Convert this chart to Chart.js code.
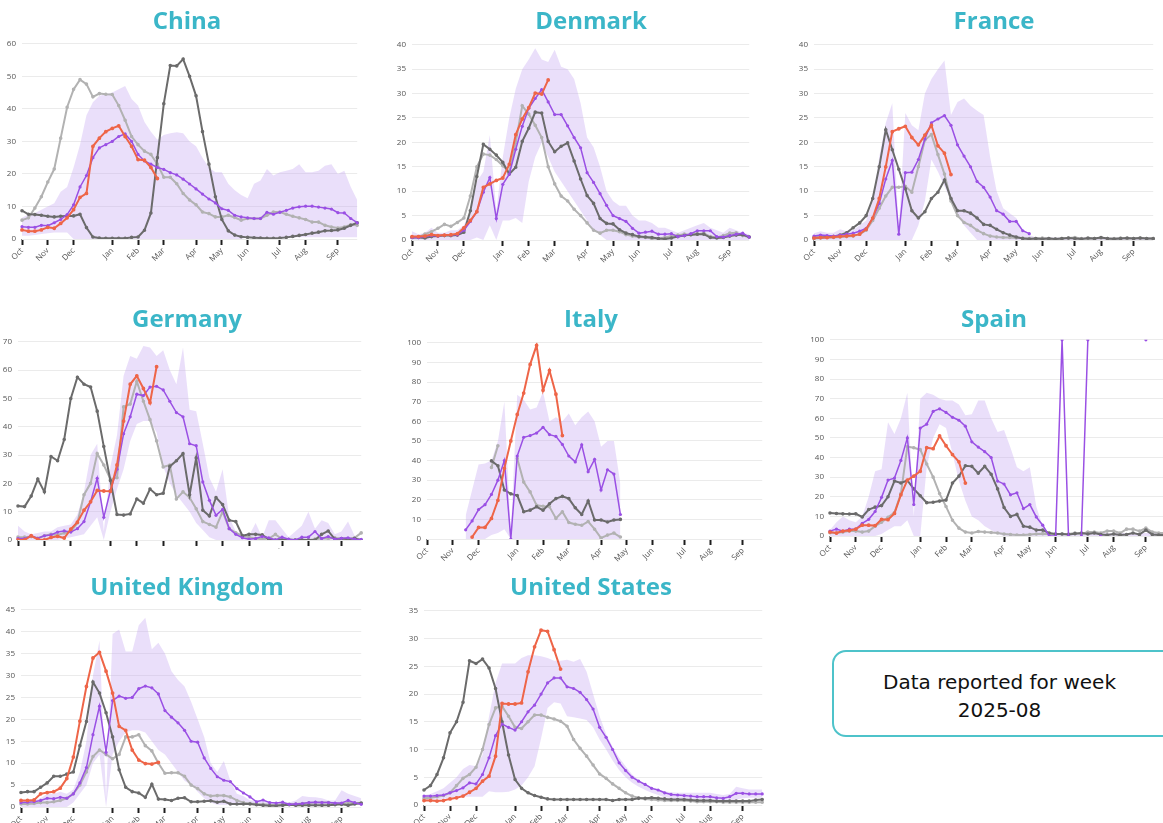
<!DOCTYPE html>
<html>
<head>
<meta charset="utf-8">
<script src="https://cdn.jsdelivr.net/npm/chart.js@4.4.1/dist/chart.umd.min.js"></script>
<style>
  html, body { margin:0; padding:0; background:#fff; }
  body { width:1163px; height:823px; overflow:hidden; position:relative; }
  .ttl { position:absolute; width:400px; text-align:center; font-family:'Open Sans', sans-serif; font-weight:700; font-size:24px; line-height:30px; color:#3bb6c8; }
  .wrap { position:absolute; overflow:hidden; }
  .wrap canvas { position:absolute; left:0; top:0; }
  #note { position:absolute; left:832px; top:650px; width:345px; height:87px; box-sizing:border-box; border:2.5px solid #4ec3ca; border-radius:14px; font-family:'DejaVu Sans', sans-serif; font-size:20px; line-height:28px; color:#111; text-align:center; padding-top:16px; padding-right:10px; }
</style>
</head>
<body>
<div id="note">Data reported for week<br>2025-08</div>
<script>
const _ = null;
// x-axis tick labels: one per week, Oct .. Sep (53 weeks)
const weekLabels = ['Oct','','','','Nov','','','','Dec','','','','','','Jan','','','','Feb','','','','Mar','','','','','Apr','','','','May','','','','Jun','','','','','Jul','','','','Aug','','','','','Sep','','',''];

// ---- China ----
const chinaCurrent = [2.8,2.4,2.4,2.8,3.6,3.3,4.8,6.5,9,12.8,14,28.5,31,33,34,34.8,31.5,28.5,24.4,24.2,22,18.6,_,_,_,_,_,_,_,_,_,_,_,_,_,_,_,_,_,_,_,_,_,_,_,_,_,_,_,_,_,_,_];
const chinaMedian = [3.8,3.6,3.6,4.2,4.1,5,6,7.5,10.5,16,19.5,25,28,29,30,31.5,32.3,30,26,24,23,22,21.4,20.4,19.7,18.4,16.9,15.4,13.8,12.3,11.1,9.3,8.8,7.3,6.8,6.5,6.3,6.3,8.2,7.6,8.2,8.8,9.5,9.9,10.1,10.1,9.8,9.5,9.2,8.1,8,6.3,5];
const chinaPrev1 = [8.7,7.6,7.5,7.3,7,6.8,7,7.1,7.1,7.6,3.5,0.6,0.3,0.2,0.2,0.2,0.2,0.5,0.6,2.7,8,25,41.6,53.3,53.2,55.3,50,44,33,23,13,6,2.5,1.2,0.7,0.5,0.4,0.3,0.2,0.2,0.3,0.5,0.8,1.1,1.4,1.8,2.1,2.5,2.6,2.8,3.3,4.2,5];
const chinaPrev2 = [5.8,6.5,9.5,13,17.5,21.5,31,40.5,46,49,47.6,43.7,44.7,44.5,44.4,41,36.5,31.5,29,27,26,23,19,19,17,14,12,10.5,8.3,7.8,6.8,6.8,7.3,6.6,5.8,6.3,6.3,6.3,7.3,8.3,8.3,7.6,7,6.5,6,5.2,5.2,4.2,3.7,3.4,3.7,4.4,4.2];
const chinaUpper = [6.5,7.5,8,9,10,11,14.5,16,22,29,38,42,44,44.5,45,46,47,43,41,36,33,30.5,32,32.5,32.8,32.5,30,28.5,25,22,20.5,20.5,17,15,13.5,12.5,17,18,21.5,19.5,20.5,21,21.5,23,20.5,20.5,21,22.5,23,20,21,16,12];
const chinaLower = [1,1,1.2,1.5,1.8,2,2,2,0,0,0,0,0,0,0,0,0,0,0,0,0,0,0,0,0,0,0,0,0,0,0,0,0,0,0,0.5,0.5,0.5,0.5,0.5,0.5,0.5,0.5,0.5,0.5,0.5,0.5,0.5,0.5,0.5,0.5,0.5,0.5];

// ---- Denmark ----
const denmarkCurrent = [0.7,0.7,0.8,1.1,0.9,1.0,1.1,1.3,2.5,4,5.8,10.8,11.5,12.2,12.7,15.5,21.6,24.8,27.1,30.1,29.9,32.8,_,_,_,_,_,_,_,_,_,_,_,_,_,_,_,_,_,_,_,_,_,_,_,_,_,_,_,_,_,_,_];
const denmarkMedian = [0.5,0.5,0.7,0.9,0.8,1.0,1.0,1.1,2,3.8,5.8,9.8,12.8,4.4,11.4,13.5,18.6,23.3,27,29,30.8,28.3,25.7,25.7,23.4,21,18.9,13.8,11.8,9.5,7.1,5,4.4,3.8,2.4,1.4,1.6,1.8,1.2,1.2,1.3,0.7,0.9,1.3,1.9,1.9,1.9,0.7,0.6,0.9,1.2,1.4,0.6];
const denmarkPrev1 = [0.5,0.5,0.4,0.7,0.8,0.9,0.9,1.0,1.6,6,13,19.6,18.6,17.4,15.9,13.5,14.9,20.2,22.9,26.2,26,20.2,18.1,19.2,19.9,16.2,12.5,9.1,7.5,4.4,3.4,3.3,2.1,1.4,1.1,0.7,0.6,0.5,0.3,0.2,0.4,0.7,0.9,1.1,1.2,1.2,0.5,0.4,0.5,0.8,1,1.1,0.6];
const denmarkPrev2 = [0.5,0.6,1.2,1.7,2.4,3.2,2.8,3.6,4.5,9,15,17.6,17.4,16.5,15.2,14,20,27.5,25.8,23.5,21,15,11.5,9,8,6.3,5,3.5,2,1.4,2,2,1.7,1.1,0.8,0.6,0.5,0.3,0.3,0.5,0.8,1.0,1.2,1.1,1.2,1.4,0.7,0.5,0.9,1.4,1.5,0.9,0.6];
const denmarkUpper = [1.8,1.2,1.5,2.5,1.5,1.5,2,2,3,6,12,14,21.5,6,17,25,31,35,37,39.3,37,36.5,39,35.5,35,33,28,21,19,15,10,8,7,7,5,4,4,3.5,2.5,2.5,2,1.5,2,2.5,3,3.5,2.5,2,1.5,2.5,2,1.5,1.2];
const denmarkLower = [0,0,0,0,0,0,0,0,0,0,0.5,0,3,0,4,4,4.5,3.5,12,17,20,17,14,12,10,8,6,4,2,1,0,0,0,0,0,0,0,0,0,0,0,0,0,0,0,0,0,0,0,0,0,0,0];

// ---- France ----
const franceCurrent = [0.4,0.5,0.5,0.6,0.7,0.8,0.9,1.2,2.2,4.5,8.5,15,22.2,22.8,23.3,21,19.5,21.5,23.5,19.3,17.8,13.4,_,_,_,_,_,_,_,_,_,_,_,_,_,_,_,_,_,_,_,_,_,_,_,_,_,_,_,_,_,_,_];
const franceMedian = [0.8,1.0,0.9,0.8,1.0,1.2,1.4,1.8,2.4,4.5,7.5,12.5,16.3,1.2,13.8,13.9,16.5,20.7,24,24.8,25.5,23.5,19.5,17.2,15,12,10.8,8.8,6,5.3,3.8,3.8,1.9,1.3,_,_,_,_,_,_,_,_,_,_,_,_,_,_,_,_,_,_,_];
const francePrev1 = [0.5,0.5,0.6,0.7,1,1.5,2.5,3.5,5,8.5,15,22.6,18.5,14.5,10.5,6,4.5,5.8,8.5,9.8,12.3,8.5,6,6,5.5,4.5,3.2,3,2.2,1.5,1,0.6,0.3,0.2,0.3,0.2,0.3,0.2,0.3,0.4,0.3,0.2,0.4,0.3,0.5,0.3,0.2,0.3,0.4,0.3,0.4,0.3,0.3];
const francePrev2 = [0.3,0.4,0.5,0.5,0.6,0.7,0.8,1.2,2,4,6.5,9,10.8,10.8,11,9.8,15,20.5,21.6,17.5,13.5,8,5,3.6,3,2,1.3,0.8,0.6,0.5,0.5,0.4,0.4,0.3,0.3,0.4,0.3,0.2,0.3,0.4,0.5,0.3,0.2,0.3,0.4,0.3,0.3,0.4,0.3,0.3,0.4,0.3,0.3];
const franceUpper = [1.4,1.8,1.5,1.5,2.2,1.8,2,3,4,8,17,24,28,2,26,23.5,22.5,30,33,35,36.8,25.6,28.3,29,27.5,26.5,25.6,17,10,6.5,5.5,4.5,2,1,0.5,0.5,0.5,0.5,0.5,0.5,0.5,0.5,0.5,0.5,0.5,0.5,0.5,0.5,0.5,0.5,0.5,0.5,0.5];
const franceLower = [0,0,0,0,0,0,0,0,0,0,0,0,0,0,0,0,3,8,16.5,14,11,8,5,3,1.5,0,0,0,0,0,0,0,0,0,0,0,0,0,0,0,0,0,0,0,0,0,0,0,0,0,0,0,0];

// ---- Germany ----
const germanyCurrent = [0,0,1.5,0.2,0,0.9,1.3,0.7,3.8,6.3,10.5,13.5,17.5,17.3,17.2,26.5,42,55,58,53.5,48.5,61.2,_,_,_,_,_,_,_,_,_,_,_,_,_,_,_,_,_,_,_,_,_,_,_,_,_,_,_,_,_,_,_];
const germanyMedian = [0.5,0.5,1.5,0.6,1.5,1.8,2.8,3.2,2.8,4,6.5,13.5,21.8,8,17.5,25,37.5,43.5,51.5,51,54,54.3,53,49,45,43.5,34,33.3,20.5,14,8.7,10.8,4,2,0.8,0.3,0.5,1.2,0.8,0,1,0.3,0,1,1,3,0.5,1.2,0.3,0.6,0.8,0.3,0.2];
const germanyPrev1 = [12,11.8,15.5,21.5,17,29.5,28,35.5,50,57.5,55,54,45.5,33,21,9,8.8,9.2,14.5,13,18,16,16.5,26,28,30.5,16,29,10.5,8.5,15,12.5,7,6.5,1.5,2,2,1.8,0.3,0,0,0.2,0,0.1,0,0,2,3.2,0.3,0.5,0.3,0.5,0];
const germanyPrev2 = [1,1,1.2,0.6,1.5,2,1.8,2.5,3,6,16,20,30.5,26.5,21.5,22,47,48,56,49,42.5,35,25.8,26.5,14.5,17,15,11,6.5,5.5,4.5,10,4,2.5,1.5,1,0.5,0.3,0.5,2,0.3,0,0,0,0,0.3,0.5,0.5,0.8,0.3,0.3,0.8,2.5];
const germanyUpper = [5,3,2,2.5,3,3,4.5,5,5.5,9,17,30,34,3,26,37,58,65,64,68.5,68,65,67,60,55,68,46,45.5,34,22,17,25,8,3,2,1.5,6,1,7,7,4,1,3,5,10,4,7,6,2,3,6.5,1.5,0.5];
const germanyLower = [0,0,0,0,0,0,0,0.5,1,1.5,2,5,8,0,10,18,25,35,41,42,42,38,26,20,16,13,10,6,3.5,1,0,0,0,0,0,0,0,0,0,0,0,0,0,0,0,0,0,0,0,0,0,0,0];

// ---- Italy ----
const italyCurrent = [_,_,_,_,_,_,_,1,5.9,5.9,10.5,19.7,36,50,63.5,74.4,89,98.7,75.8,85.9,73.8,52.7,_,_,_,_,_,_,_,_,_,_,_,_,_,_,_,_,_,_,_,_,_,_,_,_,_,_,_,_,_,_,_];
const italyMedian = [_,_,_,_,_,_,4.7,9.2,15,17.5,22.7,30,40,0,42.3,51.8,52.7,54,56.9,53.2,52.3,48.2,42.3,39.3,48,34.3,40.6,25,35.3,33.1,12.5,_,_,_,_,_,_,_,_,_,_,_,_,_,_,_,_,_,_,_,_,_,_];
const italyPrev1 = [_,_,_,_,_,_,_,_,_,_,39.8,37.3,25,23,22.2,13.9,14.7,16.4,14.7,18,20.6,21.7,20.6,15.9,12.5,19.4,9.7,9.7,8.7,9.7,10,_,_,_,_,_,_,_,_,_,_,_,_,_,_,_,_,_,_,_,_,_,_];
const italyPrev2 = [_,_,_,_,_,_,_,_,_,_,36.5,47.5,_,_,41,29,24,17.2,16.7,16.4,10.5,13.9,8.4,7.5,7,8.9,5,0.5,2,3,1,_,_,_,_,_,_,_,_,_,_,_,_,_,_,_,_,_,_,_,_,_,_];
const italyUpper = [_,_,_,_,_,_,12,25,38,38.5,40,50,70,3,73.5,71,66,67,75,60,62,60,64,58,62,65,60,47,50,50,28,_,_,_,_,_,_,_,_,_,_,_,_,_,_,_,_,_,_,_,_,_,_];
const italyLower = [_,_,_,_,_,_,0,0,0,0,2,3,5,0,0,0,0,0,0,0,0,0,0,0,0,0,0,0,0,0,0,_,_,_,_,_,_,_,_,_,_,_,_,_,_,_,_,_,_,_,_,_,_];

// ---- Spain ----
const spainCurrent = [2,1.5,2.5,2.8,3.5,5.5,5.5,5.3,8.5,8.3,11.5,21,28.5,30.5,33,45,44.5,51,46,41.5,37.8,27,_,_,_,_,_,_,_,_,_,_,_,_,_,_,_,_,_,_,_,_,_,_,_,_,_,_,_,_,_,_,_];
const spainMedian = [2.5,3.5,2.5,3.5,3.5,6.5,8.5,12.5,19.7,28.5,29.5,38.5,50,16,55,57,63.5,64.8,63,60.5,59,56,48,45.3,43,40,28,26.5,21,22,14,16,9.7,5.5,0,0,100,0,_,0,100,_,0,_,_,_,_,_,_,100,_,_,_];
const spainPrev1 = [11.7,11.5,11.3,11.2,11.3,9.7,13.5,14.7,15.5,20,28,27,28.3,24,20.5,17,17.2,17.8,18.3,27,30.5,35.8,35.5,32,35.5,31.5,24,14.5,10,11,5,4.5,3,3,1.5,1,1,0.8,1.2,1.5,1,1.5,0.8,0.5,1,0.5,0.8,1.5,0.8,3,0.8,0.5,0.5];
const spainPrev2 = [1.7,1.5,2,2.5,2.5,2,2.5,5,7,9.5,12,21.6,45.5,45,44,36.7,30,21.6,15,8,4,2,1.5,2.3,2,1.8,1.5,1,0.8,0.5,0.5,0.8,1,1.2,1,1,1,1,1.5,1,2,2,1.5,2.5,2.5,1.5,3.5,3.5,2.5,4,2,1.5,1.5];
const spainUpper = [3,7,10,8,7,10,20,33,34,58,52,60,73,10,70,73,72,70,69,69,67,61.5,62,69,69,60,53,54,45,35,33,35,15,5,1.5,1.5,1.5,1.5,1.5,1.5,1.5,1.5,1.5,1.5,1.5,1.5,1.5,1.5,1.5,1.5,1.5,1.5,1.5];
const spainLower = [0,0,0,0,0,0,0,0,1,3,5,5,8,0,0,35,50,57,55,42,28,18,10,8,5,3,1,0,0,0,0,0,0,0,0,0,0,0,0,0,0,0,0,0,0,0,0,0,0,0,0,0,0];

// ---- United Kingdom ----
const ukCurrent = [1.5,1.5,1.6,3,3.3,3.5,4.3,6.5,11.4,19.6,27.5,34,35.3,31,26,18.4,17.5,13,10.7,9.9,9.8,10.2,_,_,_,_,_,_,_,_,_,_,_,_,_,_,_,_,_,_,_,_,_,_,_,_,_,_,_,_,_,_,_];
const ukMedian = [1,1.1,1.2,1.5,2,1.9,2.2,2,3,5.5,9,16.5,23,12.5,24.3,25.3,24.8,25,27,27.6,27.2,25.8,22,20.5,19.2,17.5,15,14.8,11.2,8.8,6.9,6.1,5.8,4.2,3.2,2.3,1.2,1.6,1,0.9,1.1,0.6,0.7,0.8,1,1.1,1,1,0.9,0.9,1.5,1,0.6];
const ukPrev1 = [3.3,3.5,3.5,4.5,5.5,7,7,7.5,8,14,19.5,28.5,26,21.5,16,8.5,4.5,3.5,3.2,2.2,5.2,1.8,1.7,1.5,2,2.1,1.2,1.2,1.3,1.4,1.1,1.3,0.7,0.7,0.7,0.7,0.5,0.4,0.3,0.3,0.4,0.5,0.4,0.4,0.4,0.4,0.4,0.4,0.5,0.6,0.4,0.7,0.9];
const ukPrev2 = [0.7,0.7,0.8,1,1,1.2,1.5,2,3,5,8,11.5,13,12,11,12,16,16,16.5,14,12.8,10,7.7,7.8,7.8,7,5,4.2,3,2.5,2.6,2.6,2.3,1.5,1,0.8,0.7,0.6,0.5,0.4,0.6,0.6,0.7,0.8,0.9,1,1,1,0.8,0.7,0.9,0.9,0.8];
const ukUpper = [1.5,1.5,1.5,2,3,3,3.5,3,4,8,15,30,38,2,39.5,40.5,35.5,35.5,41.5,43.2,36,37.5,35,31,29,27.5,24,20,16,10,8,10.5,6,3,2.5,1.5,1.5,1.5,1.2,1,1.3,1,1.5,2.5,2.3,2.2,2,1.5,1.5,3.8,3,2.5,2];
const ukLower = [0,0,0,0,0,0,0,0,1,3,5,10,12,0,12,15,17,17.5,17.5,17,15,13,12,10,8,6,5,3.5,2,1,0.5,0.5,0.5,0.5,0.5,0.5,0.5,0.5,0.5,0.5,0.5,0.5,0.5,0.5,0.5,0.5,0.5,0.5,0.5,0.5,0.5,0.5,0.5];

// ---- United States ----
const usCurrent = [0.8,0.8,0.7,0.8,1.1,1.3,1.6,2.3,3,4.3,5.2,8.8,18.3,18.2,18.2,18.4,24,28.5,31.5,31.3,28,24.5,_,_,_,_,_,_,_,_,_,_,_,_,_,_,_,_,_,_,_,_,_,_,_,_,_,_,_,_,_,_,_];
const usMedian = [1.6,1.6,1.7,1.8,2.2,2.6,3.1,4,3.8,5.5,8.5,12.5,14.6,14,13.5,15,16.8,18,20,22,22.9,22.9,21.3,21,20.3,19,17.3,14,12.2,10,7.6,6.2,5,4.3,3.7,3,2.7,2.2,1.9,1.8,1.7,1.6,1.5,1.5,1.5,1.3,1.2,1.5,2.1,2.1,2,2,2];
const usPrev1 = [2.7,3.5,5.5,8.5,13,15,18.5,26,25.5,26.3,24.7,21,15,9,4.6,3,2.2,1.7,1.4,1.1,1,1,1,1,1,1,1,1,1,0.8,1,1,1,1.2,1.2,1.3,1.2,1.1,1,1,1,0.9,0.8,0.8,0.8,0.7,0.7,0.7,0.7,0.7,0.7,0.9,1];
const usPrev2 = [1.2,1.3,1.5,1.7,2.2,3.5,4.8,5.5,6.8,10,14.5,17.5,17.8,16,14,13.8,15,16.2,16.2,15.8,15.5,15.1,14.2,11.8,10.2,8.8,7.2,5.6,4.8,3.8,3,2.2,1.6,1.3,1.1,1,0.9,0.8,0.8,0.8,0.8,0.7,0.6,0.6,0.6,0.6,0.5,0.5,0.5,0.5,0.5,0.5,0.5];
const usUpper = [1.8,2,2.5,3,4,5,6.5,7.2,7,9,16,22,25.5,25.5,25.5,26.5,27,27,26.8,26.5,26,26,26.2,25.8,26.3,24,20,16,12.8,10.5,8.5,7,5.5,4.5,3.8,3.3,2.8,2.5,2.3,2.2,2.2,2.2,2.2,2.2,2.2,2,1.8,2,3.3,3,2.8,2.8,2.8];
const usLower = [0.8,0.9,1,1.1,1.3,1.4,1.5,1.5,1.5,1.5,2.5,2.3,2.3,2.4,2.8,3.5,5,7,12,17.5,18.5,18.3,16,15.8,15.6,15.3,14,11.8,10,8,6.3,5,4,3.3,2.7,2.2,1.8,1.4,1.2,1,1,1,1,1,1,0.9,0.9,0.8,1,1.2,1.3,1.3,1.3];

// panel layout (chart-area pixel box in page coords)
const panels = [
  {title:'China', cx:187, cy:20, L:22, R:359, T:41, B:239, max:60, step:10, s:[chinaCurrent,chinaMedian,chinaPrev1,chinaPrev2,chinaUpper,chinaLower]},
  {title:'Denmark', cx:591, cy:20, L:412, R:751, T:42, B:240, max:40, step:5, s:[denmarkCurrent,denmarkMedian,denmarkPrev1,denmarkPrev2,denmarkUpper,denmarkLower]},
  {title:'France', cx:994, cy:20, L:814, R:1155, T:42, B:240, max:40, step:5, s:[franceCurrent,franceMedian,francePrev1,francePrev2,franceUpper,franceLower]},
  {title:'Germany', cx:187, cy:318, L:18, R:363, T:339, B:540, max:70, step:10, clip:9, s:[germanyCurrent,germanyMedian,germanyPrev1,germanyPrev2,germanyUpper,germanyLower]},
  {title:'Italy', cx:591, cy:318, L:427, R:764, T:340, B:539, max:100, step:10, s:[italyCurrent,italyMedian,italyPrev1,italyPrev2,italyUpper,italyLower]},
  {title:'Spain', cx:994, cy:318, L:830, R:1167, T:337, B:536, max:100, step:10, s:[spainCurrent,spainMedian,spainPrev1,spainPrev2,spainUpper,spainLower]},
  {title:'United Kingdom', cx:187, cy:586, L:21, R:363, T:607, B:807, max:45, step:5, s:[ukCurrent,ukMedian,ukPrev1,ukPrev2,ukUpper,ukLower]},
  {title:'United States', cx:591, cy:586, L:424, R:764, T:608, B:805, max:35, step:5, s:[usCurrent,usMedian,usPrev1,usPrev2,usUpper,usLower]}
];

const YW = 24, XH = 30, PT = 8, PR = 6;

panels.forEach(p => {
  const w = p.R - p.L + YW + PR;
  const h = p.B - p.T + PT + XH;
  const wrap = document.createElement('div');
  wrap.className = 'wrap';
  wrap.style.left = (p.L - YW) + 'px';
  wrap.style.top = (p.T - PT) + 'px';
  wrap.style.width = w + 'px';
  wrap.style.height = (p.clip ? (p.B - p.T + PT + p.clip) : h) + 'px';
  const cv = document.createElement('canvas');
  cv.width = w; cv.height = h;
  cv.style.width = w + 'px'; cv.style.height = h + 'px';
  wrap.appendChild(cv);
  document.body.appendChild(wrap);

  const t = document.createElement('div');
  t.className = 'ttl';
  t.textContent = p.title;
  t.style.left = (p.cx - 200) + 'px';
  t.style.top = (p.cy - 15) + 'px';
  document.body.appendChild(t);

  const [cur, med, p1, p2, up, lo] = p.s;
  new Chart(cv, {
    type: 'line',
    data: {
      labels: weekLabels,
      datasets: [
        {label:'2024/25', data:cur, borderColor:'#ee6548', backgroundColor:'#ee6548', borderWidth:2, pointRadius:0.9, pointHoverRadius:0},
        {label:'Median', data:med, borderColor:'#9a50e4', backgroundColor:'#9a50e4', borderWidth:1.5, pointRadius:1.6, pointBorderWidth:0},
        {label:'2023/24', data:p1, borderColor:'#6b6b6b', backgroundColor:'#6b6b6b', borderWidth:2, pointRadius:0.8},
        {label:'2022/23', data:p2, borderColor:'#b2b2b2', backgroundColor:'#b2b2b2', borderWidth:2, pointRadius:0.8},
        {label:'Upper', data:up, borderWidth:0, borderColor:'rgba(0,0,0,0)', pointRadius:0, fill:'+1', backgroundColor:'rgba(196,166,240,0.36)'},
        {label:'Lower', data:lo, borderWidth:0, borderColor:'rgba(0,0,0,0)', pointRadius:0, fill:false}
      ]
    },
    options: {
      responsive:false, animation:false, devicePixelRatio:1,
      layout:{padding:{top:PT, right:PR, left:0, bottom:0}},
      plugins:{legend:{display:false}, tooltip:{enabled:false}, title:{display:false}},
      elements:{line:{tension:0}},
      scales:{
        x:{
          type:'category',
          border:{display:false},
          grid:{drawOnChartArea:false, drawTicks:true, tickLength:6, tickWidth:2,
                tickColor: ctx => weekLabels[ctx.index] ? '#1e1e1e' : 'rgba(0,0,0,0)'},
          ticks:{autoSkip:false, minRotation:45, maxRotation:45, padding:1, color:'#555',
                 font:{family:'Open Sans', size:8}},
          afterFit: s => { s.height = XH; }
        },
        y:{
          min:0, max:p.max,
          border:{display:false},
          grid:{color:'#ebebeb', drawTicks:false, lineWidth:1},
          ticks:{stepSize:p.step, padding:6, color:'#555', font:{family:'Open Sans', size:8}},
          afterFit: s => { s.width = YW; }
        }
      }
    }
  });
});
</script>
</body>
</html>
